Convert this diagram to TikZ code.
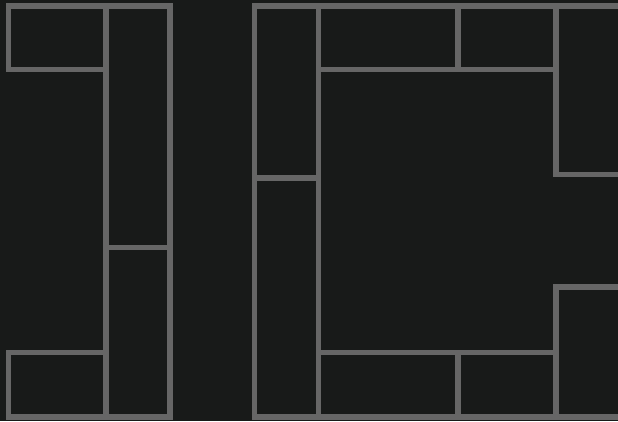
\documentclass[tikz,border=0pt]{standalone}
\usepackage{tikz}
\usepackage{xcolor}
\definecolor{PanelBg}{HTML}{181A19}
\definecolor{PanelLine}{HTML}{666666}
\tikzset{
  panel/.style={draw=PanelLine, line width=5.5pt, fill=PanelBg}
}

\begin{document}
\begin{tikzpicture}[x=1pt, y=-1pt]
    \fill[PanelBg] (0,0) rectangle (618,421);
    \useasboundingbox (0,0) rectangle (618,421);
    \clip (0,0) rectangle (618,421);

    % left block
    \draw[panel] (8.5,6) rectangle (106,69.5);
    \draw[panel] (106,6) rectangle (170,247.5);
    \draw[panel] (106,247.5) rectangle (170,417);
    \draw[panel] (8.5,352.5) rectangle (106,417);

    % right block
    \draw[panel] (254.5,6) rectangle (318.5,178);
    \draw[panel] (254.5,178) rectangle (318.5,417);
    \draw[panel] (318.5,6) rectangle (458,69.5);
    \draw[panel] (458,6) rectangle (556,69.5);
    \draw[panel] (556,6) rectangle (630,174.5);
    \draw[panel] (318.5,352.5) rectangle (458,417);
    \draw[panel] (458,352.5) rectangle (556,417);
    \draw[panel] (556,287) rectangle (630,417);
  \end{tikzpicture}
\end{document}
